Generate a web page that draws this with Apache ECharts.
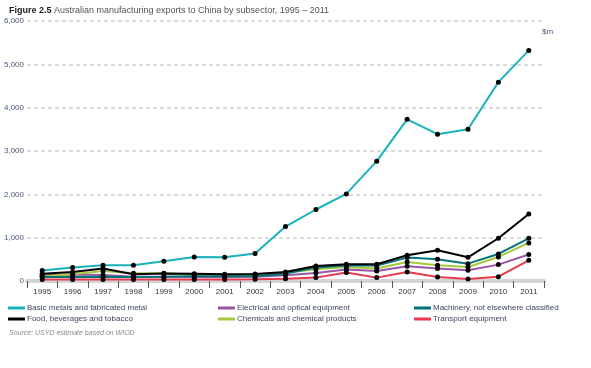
<!DOCTYPE html>
<html><head><meta charset="utf-8">
<script src="https://cdn.jsdelivr.net/npm/echarts@6/dist/echarts.min.js"></script>
<style>html,body{margin:0;padding:0;background:#fff}#c{width:591px;height:368px}</style>
</head><body><div id="c"></div>
<script>
const years = ['1995','1996','1997','1998','1999','2000','2001','2002','2003','2004','2005','2006','2007','2008','2009','2010','2011'];
const yTicks = [0,1000,2000,3000,4000,5000,6000];
const basicMetals = [245,310,362,362,455,555,547,635,1256,1650,2010,2765,3730,3388,3503,4589,5321];
const food        = [170,208,287,155,175,165,155,160,208,347,385,385,594,709,547,986,1547];
const electrical  = [140,150,140,100,100,95,95,100,130,185,263,231,340,287,247,378,610];
const chemicals   = [110,155,230,180,180,140,140,140,190,270,323,287,439,362,323,555,878];
const machinery   = [90,95,100,95,100,110,110,110,170,310,355,355,540,501,400,624,986];
const transport   = [32,32,32,32,32,35,35,40,50,78,194,78,208,92,46,100,478];

const names = {
  basic:'Basic metals and fabricated metal',
  food:'Food, beverages and tobacco',
  elec:'Electrical and optical equipment',
  chem:'Chemicals and chemical products',
  mach:'Machinery, not elsewhere classified',
  trans:'Transport equipment'
};
const colors = {basic:'#19b2bc',food:'#000000',elec:'#9a56a6',chem:'#a6c83c',mach:'#00737b',trans:'#e8394d'};

function ser(key, data, z){
  return {name:names[key], type:'line', data:data, z:z,
    lineStyle:{color:colors[key], width:2},
    itemStyle:{color:'#000'},
    symbol:'circle', symbolSize:5, showSymbol:true};
}
function leg(key){ return {name:names[key], itemStyle:{color:colors[key]}}; }
const txt = '#3d4660';
const chart = echarts.init(document.getElementById('c'), null, {renderer:'canvas'});
const legBase = {orient:'vertical', icon:'rect', itemWidth:17, itemHeight:3, itemGap:3,
  textStyle:{fontSize:8, color:txt, fontFamily:'Liberation Sans, Arial, sans-serif', padding:[0,0,0,-3]}, selectedMode:false};
chart.setOption({
  animation:false,
  textStyle:{fontFamily:'Liberation Sans, Arial, sans-serif'},
  title:[{
    text:'{b|Figure 2.5} Australian manufacturing exports to China by subsector, 1995 – 2011',
    left:4, top:1,
    textStyle:{fontSize:9, fontWeight:'normal', color:'#555',
      rich:{b:{fontSize:9, fontWeight:'bold', color:'#222'}}}
  },{
    text:'Source: USYD estimate based on WIOD',
    left:4, top:325,
    textStyle:{fontSize:7, fontStyle:'italic', fontWeight:'normal', color:'#8a8a8a'}
  },{
    text:'$m', left:537, top:23,
    textStyle:{fontSize:8, fontWeight:'normal', color:'#4a5a7a'}
  }],
  legend:[
    Object.assign({}, legBase, {left:3, top:299, data:[leg('basic'), leg('food')]}),
    Object.assign({}, legBase, {left:213, top:299, data:[leg('elec'), leg('chem')]}),
    Object.assign({}, legBase, {left:409, top:299, data:[leg('mach'), leg('trans')]})
  ],
  grid:{left:27, right:47, top:21, bottom:87, containLabel:false},
  xAxis:{type:'category', data:years, boundaryGap:true,
    axisLine:{lineStyle:{color:'#d4d4d4', width:4}},
    axisTick:{show:true, length:7, lineStyle:{color:'#555', width:1}},
    axisLabel:{fontSize:8, color:'#333', margin:7}
  },
  yAxis:{type:'value', min:0, max:6000, interval:1000,
    axisLine:{show:false}, axisTick:{show:false},
    axisLabel:{fontSize:8, color:'#4a5a7a', margin:3,
      formatter:v=>v.toLocaleString('en-US')},
    splitLine:{show:true, lineStyle:{color:'#cfcfcf', width:1.5, type:[4,3]}}
  },
  series:[
    ser('trans', transport, 2),
    ser('elec', electrical, 3),
    ser('chem', chemicals, 4),
    ser('mach', machinery, 5),
    ser('food', food, 6),
    ser('basic', basicMetals, 7)
  ]
});
</script></body></html>
